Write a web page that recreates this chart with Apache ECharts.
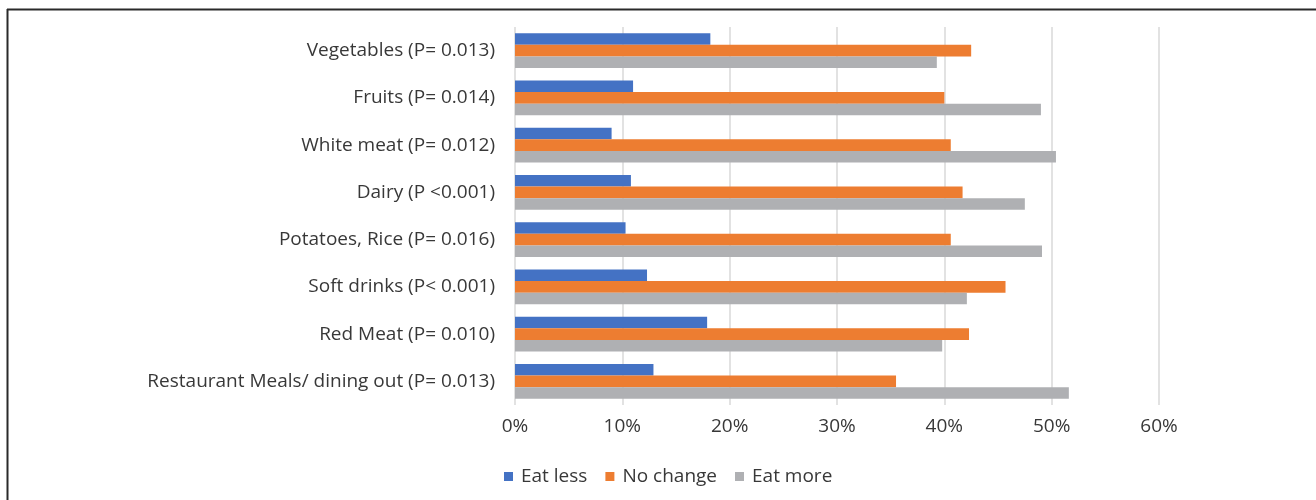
<!DOCTYPE html>
<html><head><meta charset="utf-8">
<script src="https://cdn.jsdelivr.net/npm/echarts@6/dist/echarts.min.js"></script>
<style>html,body{margin:0;padding:0;background:#fff}#c{width:1316px;height:500px}</style>
</head><body><div id="c"></div>
<script>
const categories = [
  'Vegetables (P= 0.013)',
  'Fruits (P= 0.014)',
  'White meat (P= 0.012)',
  'Dairy (P <0.001)',
  'Potatoes, Rice (P= 0.016)',
  'Soft drinks (P< 0.001)',
  'Red Meat (P= 0.010)',
  'Restaurant Meals/ dining out (P= 0.013)'
];
const eatLess  = [18.2, 11.0, 9.0, 10.8, 10.3, 12.3, 17.9, 12.9];
const noChange = [42.5, 40.0, 40.6, 41.7, 40.6, 45.7, 42.3, 35.5];
const eatMore  = [39.3, 49.0, 50.4, 47.5, 49.1, 42.1, 39.8, 51.6];
const seriesNames = ['Eat less', 'No change', 'Eat more'];
const xTicks = [0, 10, 20, 30, 40, 50, 60];

const font = '"Open Sans", Lato, sans-serif';
const chart = echarts.init(document.getElementById('c'), null, {renderer: 'canvas'});
chart.setOption({
  animation: false,
  color: ['#4472C4', '#ED7D31', '#AFB0B3'],
  textStyle: {fontFamily: font},
  grid: {left: 515, right: 157, top: 27, bottom: 95, containLabel: false},
  graphic: [
    {type: 'line', shape: {x1: 7, y1: 9.5, x2: 1316, y2: 9.5}, style: {stroke: '#2a2a2a', lineWidth: 2}},
    {type: 'line', shape: {x1: 7.5, y1: 9, x2: 7.5, y2: 500}, style: {stroke: '#2a2a2a', lineWidth: 2}}
  ],
  legend: {
    data: seriesNames,
    left: 499, top: 462,
    icon: 'rect', itemWidth: 9, itemHeight: 9, itemGap: 18,
    textStyle: {fontFamily: font, fontSize: 19, color: '#383838', padding: [0,0,0,3]}
  },
  xAxis: {
    type: 'value', min: xTicks[0], max: xTicks[xTicks.length-1], interval: 10,
    axisLine: {show: false}, axisTick: {show: false},
    splitLine: {show: true, lineStyle: {color: '#d9d9d9', width: 1.5}},
    axisLabel: {formatter: v => v + '%', fontFamily: font, fontSize: 19, color: '#383838', margin: 12}
  },
  yAxis: {
    type: 'category', data: categories, inverse: true,
    axisLine: {show: false}, axisTick: {show: false},
    axisLabel: {fontFamily: font, fontSize: 19, color: '#383838', margin: 20}
  },
  series: [
    {name: seriesNames[0], type: 'bar', data: eatLess, barGap: '0%', barCategoryGap: '26%'},
    {name: seriesNames[1], type: 'bar', data: noChange, barGap: '0%', barCategoryGap: '26%'},
    {name: seriesNames[2], type: 'bar', data: eatMore, barGap: '0%', barCategoryGap: '26%'}
  ]
});
</script></body></html>
